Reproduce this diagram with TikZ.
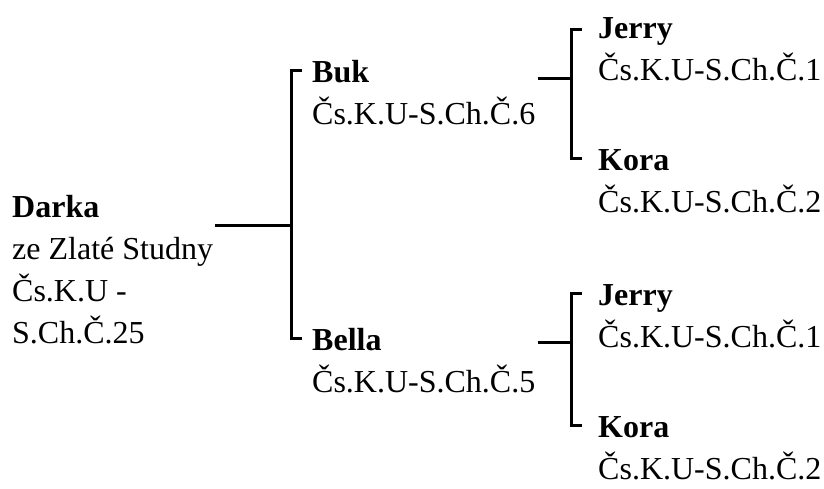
\documentclass[tikz,border=0pt]{standalone}
\usepackage{fontspec}
\setmainfont{Liberation Serif}
\usetikzlibrary{positioning}
\tikzstyle{dog} = [align=left, inner sep=0pt, font=\fontsize{32}{42}\selectfont]
\tikzstyle{bracket} = [line width=3pt]

\begin{document}
\begin{tikzpicture}[x=1pt, y=-1pt]
        \useasboundingbox (0,0) rectangle (824,488);
        % base west is the baseline of the last line
        \node (darka) [dog, anchor=base west] at (12,343) {\textbf{Darka}\\ze Zlaté Studny\\Čs.K.U -\\S.Ch.Č.25};
        \node (buk) [dog, above right=219pt and 300pt of darka.base west, anchor=base west] {\textbf{Buk}\\Čs.K.U-S.Ch.Č.6};
        \node (bella) [dog, below right=49pt and 300pt of darka.base west, anchor=base west] {\textbf{Bella}\\Čs.K.U-S.Ch.Č.5};
        \node (jerry1) [dog, above right=44pt and 286pt of buk.base west, anchor=base west] {\textbf{Jerry}\\Čs.K.U-S.Ch.Č.1};
        \node (kora1) [dog, below right=88pt and 286pt of buk.base west, anchor=base west] {\textbf{Kora}\\Čs.K.U-S.Ch.Č.2};
        \node (jerry2) [dog, above right=45pt and 286pt of bella.base west, anchor=base west] {\textbf{Jerry}\\Čs.K.U-S.Ch.Č.1};
        \node (kora2) [dog, below right=87pt and 286pt of bella.base west, anchor=base west] {\textbf{Kora}\\Čs.K.U-S.Ch.Č.2};
        \coordinate (f0) at (291,225);
        \coordinate (f1) at (571,78);
        \coordinate (f2) at (571,342);
        \draw [bracket] ([xshift=2pt]darka.east |- f0) -- (f0);
        \draw [bracket] ([shift={(-10pt,54pt)}]buk.base west) -| (f0) |- ([shift={(-10pt,54pt)}]bella.base west);
        \draw [bracket] ([xshift=2pt]buk.east |- f1) -- (f1);
        \draw [bracket] ([shift={(-16pt,51pt)}]jerry1.base west) -| (f1) |- ([shift={(-16pt,54pt)}]kora1.base west);
        \draw [bracket] ([xshift=2pt]bella.east |- f2) -- (f2);
        \draw [bracket] ([shift={(-16pt,54pt)}]jerry2.base west) -| (f2) |- ([shift={(-16pt,54pt)}]kora2.base west);
\end{tikzpicture}
\end{document}
